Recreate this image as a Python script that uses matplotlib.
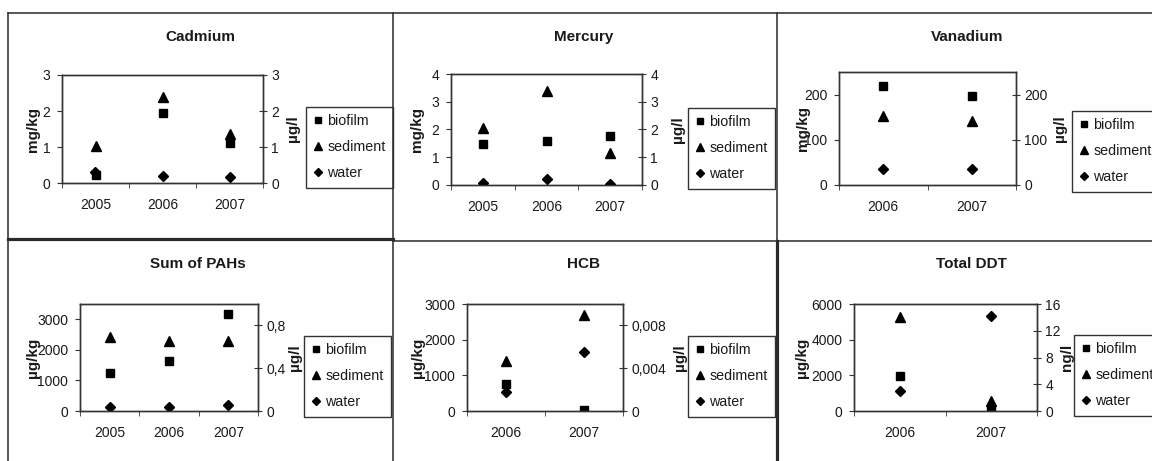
import matplotlib.pyplot as plt
from matplotlib.lines import Line2D
from matplotlib.ticker import FixedLocator, FixedFormatter

plt.rcParams['font.family'] = ['Liberation Sans', 'DejaVu Sans']

# values
cd_years = ['2005', '2006', '2007']
cd_biofilm = [0.22, 1.95, 1.12]
cd_sediment = [1.02, 2.40, 1.37]
cd_water = [0.30, 0.19, 0.16]

hg_years = ['2005', '2006', '2007']
hg_biofilm = [1.48, 1.59, 1.78]
hg_sediment = [2.07, 3.39, 1.17]
hg_water = [0.08, 0.23, 0.04]

v_years = ['2006', '2007']
v_biofilm = [220, 196]
v_sediment = [153, 141]
v_water = [35, 35]

pah_years = ['2005', '2006', '2007']
pah_biofilm = [1230, 1640, 3160]
pah_sediment = [2420, 2280, 2280]
pah_water = [0.034, 0.034, 0.056]

hcb_years = ['2006', '2007']
hcb_biofilm = [745, 30]
hcb_sediment = [1400, 2680]
hcb_water = [0.0018, 0.0055]

ddt_years = ['2006', '2007']
ddt_biofilm = [1960, 90]
ddt_sediment = [5250, 560]
ddt_water = [3.0, 14.2]

series_names = ['biofilm', 'sediment', 'water']

W, H = 1152, 461
fig = plt.figure(figsize=(W / 100, H / 100), dpi=100)
ink = '#1a1a1a'
fs = 10          # tick labels
fs_leg = 10.3    # legend
fs_ttl = 11      # chart titles
fs_unit = 11     # axis titles


def fbox(x0, y0, x1, y1):
    return [x0 / W, 1 - y1 / H, (x1 - x0) / W, (y1 - y0) / H]


panels = [
    dict(title='Cadmium', years=cd_years, data=(cd_biofilm, cd_sediment, cd_water),
         lunit='mg/kg', runit='µg/l',
         lticks=[0, 1, 2, 3], llabels=['0', '1', '2', '3'], lmax=3,
         rticks=[0, 1, 2, 3], rlabels=['0', '1', '2', '3'], rmax=3,
         ax=(62, 75, 263, 183), leg=(306, 107), ttl=(200, 37), lx=33, rx=293, xl=204),
    dict(title='Mercury', years=hg_years, data=(hg_biofilm, hg_sediment, hg_water),
         lunit='mg/kg', runit='µg/l',
         lticks=[0, 1, 2, 3, 4], llabels=['0', '1', '2', '3', '4'], lmax=4,
         rticks=[0, 1, 2, 3, 4], rlabels=['0', '1', '2', '3', '4'], rmax=4,
         ax=(451, 74, 642, 185), leg=(688, 108), ttl=(584, 37), lx=417, rx=678, xl=206),
    dict(title='Vanadium', years=v_years, data=(v_biofilm, v_sediment, v_water),
         lunit='mg/kg', runit='µg/l',
         lticks=[0, 100, 200], llabels=['0', '100', '200'], lmax=250,
         rticks=[0, 100, 200], rlabels=['0', '100', '200'], rmax=250,
         ax=(839, 72, 1016, 185), leg=(1072, 111), ttl=(967, 37), lx=803, rx=1060, xl=206),
    dict(title='Sum of PAHs', years=pah_years, data=(pah_biofilm, pah_sediment, pah_water),
         lunit='µg/kg', runit='µg/l',
         lticks=[0, 1000, 2000, 3000], llabels=['0', '1000', '2000', '3000'], lmax=3500,
         rticks=[0, 0.4, 0.8], rlabels=['0', '0,4', '0,8'], rmax=1.0,
         ax=(80, 304, 258, 411), leg=(304, 336), ttl=(198, 264), lx=33, rx=295, xl=432),
    dict(title='HCB', years=hcb_years, data=(hcb_biofilm, hcb_sediment, hcb_water),
         lunit='µg/kg', runit='µg/l',
         lticks=[0, 1000, 2000, 3000], llabels=['0', '1000', '2000', '3000'], lmax=3000,
         rticks=[0, 0.004, 0.008], rlabels=['0', '0,004', '0,008'], rmax=0.01,
         ax=(467, 304, 623, 411), leg=(688, 336), ttl=(584, 264), lx=418, rx=680, xl=432),
    dict(title='Total DDT', years=ddt_years, data=(ddt_biofilm, ddt_sediment, ddt_water),
         lunit='µg/kg', runit='ng/l',
         lticks=[0, 2000, 4000, 6000], llabels=['0', '2000', '4000', '6000'], lmax=6000,
         rticks=[0, 4, 8, 12, 16], rlabels=['0', '4', '8', '12', '16'], rmax=16,
         ax=(854, 304, 1037, 411), leg=(1074, 335), ttl=(971, 264), lx=802, rx=1067, xl=432),
]

markers = [('s', 5.8), ('^', 7.5), ('D', 5.3)]
leg_markers = [('s', 5.0), ('^', 6.2), ('D', 4.2)]

for p in panels:
    x0, y0, x1, y1 = p['ax']
    ax = fig.add_axes(fbox(x0, y0, x1, y1))
    ax2 = ax.twinx()
    n = len(p['years'])
    xs = list(range(1, n + 1))

    biofilm, sediment, water = p['data']
    ax.plot(xs, biofilm, ls='none', marker=markers[0][0], ms=markers[0][1], color='black')
    ax.plot(xs, sediment, ls='none', marker=markers[1][0], ms=markers[1][1], color='black')
    ax2.plot(xs, water, ls='none', marker=markers[2][0], ms=markers[2][1], color='black')

    ax.set_xlim(0.5, n + 0.5)
    ax.set_ylim(0, p['lmax'])
    ax2.set_ylim(0, p['rmax'])

    # category labels in the middle, tick marks between categories
    ax.set_xticks(xs)
    ax.set_xticklabels(p['years'])
    ax.set_xticks([i + 0.5 for i in range(n + 1)], minor=True)
    ax.tick_params(axis='x', which='major', length=0, pad=11, labelsize=fs, labelcolor=ink)
    ax.tick_params(axis='x', which='minor', length=3.5, direction='out', color='#333')

    ax.yaxis.set_major_locator(FixedLocator(p['lticks']))
    ax.yaxis.set_major_formatter(FixedFormatter(p['llabels']))
    ax.tick_params(axis='y', length=3.5, direction='out', pad=5, labelsize=fs,
                   labelcolor=ink, color='#333')
    ax2.yaxis.set_major_locator(FixedLocator(p['rticks']))
    ax2.yaxis.set_major_formatter(FixedFormatter(p['rlabels']))
    ax2.tick_params(axis='y', length=6, direction='inout', pad=3, labelsize=fs,
                    labelcolor=ink, color='#333')

    for a in (ax, ax2):
        for s in a.spines.values():
            s.set_color('#333')
            s.set_linewidth(1.0)

    fig.text(p['ttl'][0] / W, 1 - p['ttl'][1] / H, p['title'], ha='center', va='center',
             fontsize=fs_ttl, fontweight='bold', color=ink)
    fig.text(p['lx'] / W, 1 - (y0 + y1) / 2 / H, p['lunit'], rotation=90, ha='center',
             va='center', fontsize=fs_unit, fontweight='bold', color=ink)
    fig.text(p['rx'] / W, 1 - (y0 + y1) / 2 / H, p['runit'], rotation=90, ha='center',
             va='center', fontsize=fs_unit, fontweight='bold', color=ink)

    handles = [Line2D([], [], ls='none', marker=m, ms=ms, color='black') for m, ms in leg_markers]
    lx0, ly0 = p['leg']
    leg = ax.legend(handles, series_names, loc='upper left',
                    bbox_to_anchor=(lx0 / W, 1 - ly0 / H), bbox_transform=fig.transFigure,
                    frameon=True, fancybox=False, edgecolor='black', fontsize=fs_leg,
                    borderpad=0.5, labelspacing=0.85, handlelength=0.7,
                    handletextpad=0.3, borderaxespad=0)
    leg.get_frame().set_linewidth(1.0)
    for t in leg.get_texts():
        t.set_color(ink)

# sheet borders around the six charts
thin, thick = 1.1, 2.3
borders = [
    ((8, 13), (1152, 13), thin),
    ((8, 13), (8, 461), thin),
    ((393, 13), (393, 461), thin),
    ((777, 13), (777, 241), thin),
    ((777, 241), (777, 461), thick),
    ((8, 239), (393, 239), thick),
    ((393, 241), (1152, 241), thin),
]
for (xa, ya), (xb, yb), lw in borders:
    fig.add_artist(Line2D([xa / W, xb / W], [1 - ya / H, 1 - yb / H],
                          transform=fig.transFigure, color='#2a2a2a', lw=lw))

fig.savefig('out.png', dpi=100)
